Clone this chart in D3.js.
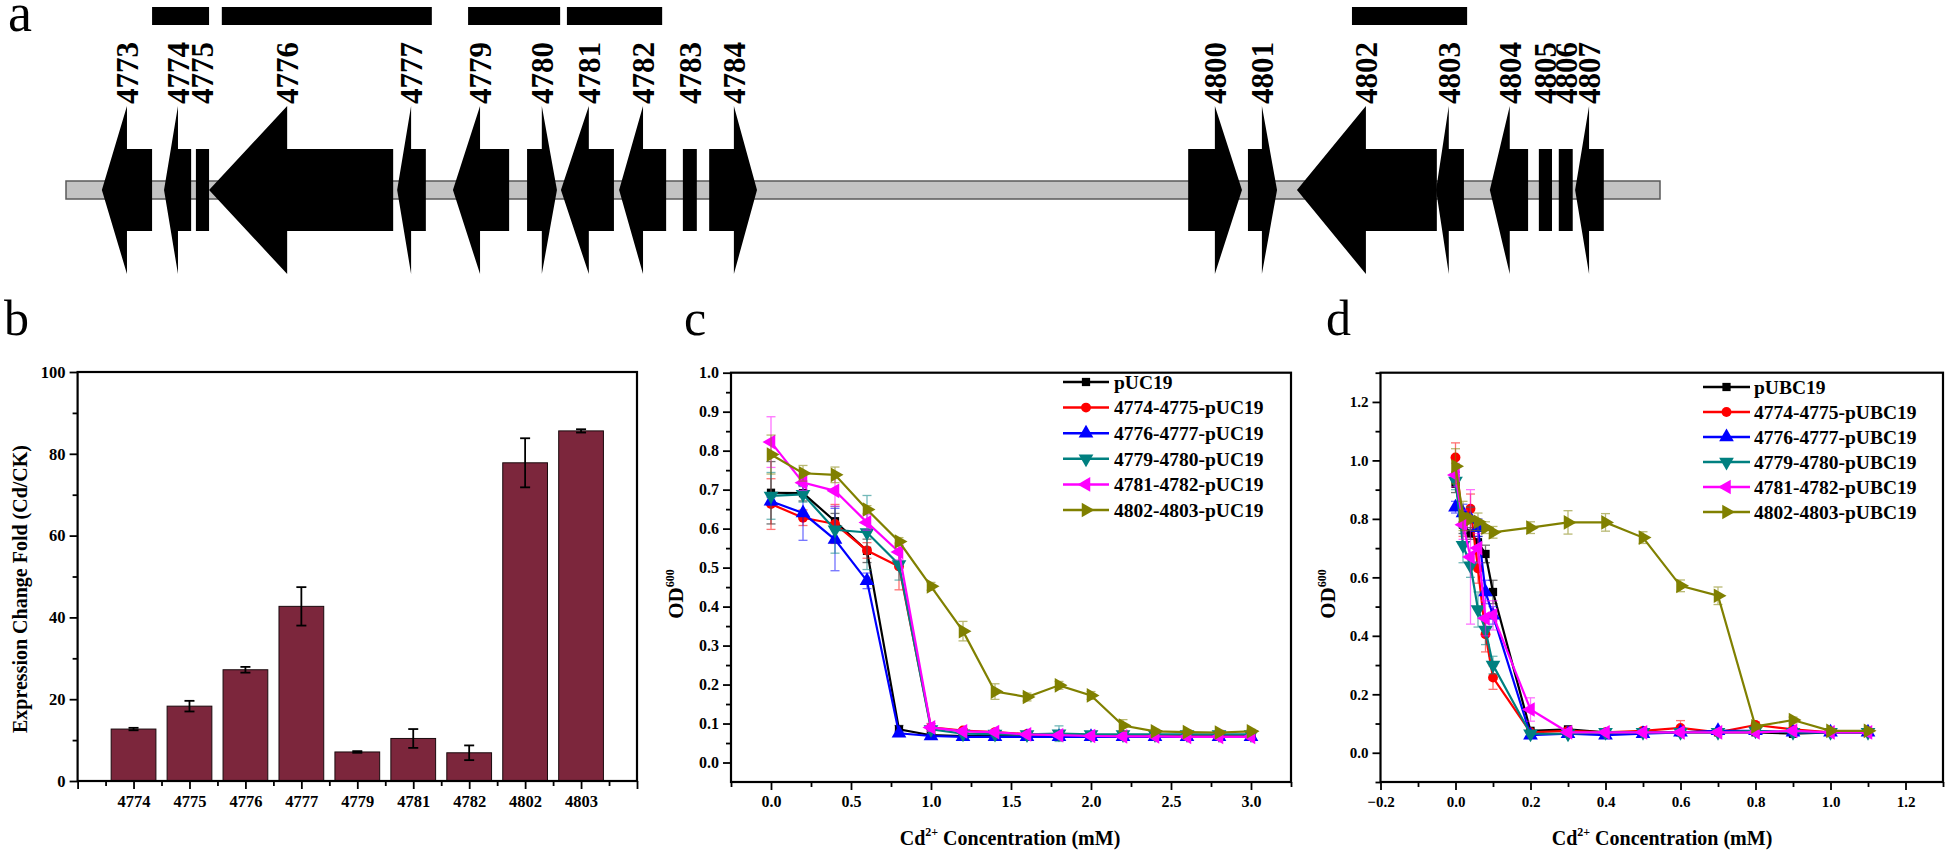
<!DOCTYPE html>
<html><head><meta charset="utf-8">
<script src="https://cdn.jsdelivr.net/npm/d3@7"></script>
<style>
body{margin:0;background:#fff}
svg{display:block}
text{font-family:"Liberation Serif","Times New Roman",serif}
</style>
</head><body>
<svg id="fig" width="1946" height="857"></svg>
<script>
// ---------------- DATA ----------------
// Panel a: gene cluster (positions in kb along the locus)
const locusLength = 40;
const geneIds    = ["4773","4774","4775","4776","4777","4779","4780","4781","4782","4783","4784","4800","4801","4802","4803","4804","4805","4806","4807"];
const geneStart  = [0.90, 2.46, 3.26, 3.59, 8.31, 9.71, 11.57, 12.42, 13.88, 15.48, 16.14, 28.16, 29.66, 30.89, 34.38, 35.73, 36.96, 37.46, 37.87];
const geneEnd    = [2.16, 3.14, 3.59, 8.21, 9.03, 11.12, 12.32, 13.75, 15.06, 15.83, 17.34, 29.51, 30.39, 34.40, 35.08, 36.69, 37.29, 37.81, 38.59];
const geneStrand = [-1, -1, 0, -1, -1, -1, 1, -1, -1, 0, 1, 1, 1, -1, -1, -1, 0, 0, -1];
const geneHead   = [0.63, 0.35, 0, 1.96, 0.35, 0.68, 0.38, 0.70, 0.60, 0, 0.58, 0.68, 0.38, 1.73, 0.32, 0.50, 0, 0, 0.35];
const fragStart  = [2.16, 3.91, 10.09, 12.57, 32.27];
const fragEnd    = [3.59, 9.18, 12.40, 14.96, 35.16];

// Panel b: expression change fold
const barCategories = ["4774","4775","4776","4777","4779","4781","4782","4802","4803"];
const barValues     = [12.7, 18.3, 27.2, 42.7, 7.1, 10.4, 6.9, 77.8, 85.6];
const barErrors     = [0.3, 1.3, 0.7, 4.7, 0.2, 2.3, 1.8, 6.0, 0.4];
const barYTicks     = [0, 20, 40, 60, 80, 100];

// Panel c: OD600 vs Cd2+ (pUC19 constructs)
const cConc = [0, 0.2, 0.4, 0.6, 0.8, 1.0, 1.2, 1.4, 1.6, 1.8, 2.0, 2.2, 2.4, 2.6, 2.8, 3.0];
const cNames = ["pUC19","4774-4775-pUC19","4776-4777-pUC19","4779-4780-pUC19","4781-4782-pUC19","4802-4803-pUC19"];
const cPUC19   = [0.692, 0.691, 0.619, 0.543, 0.085, 0.070, 0.068, 0.068, 0.067, 0.067, 0.067, 0.067, 0.067, 0.067, 0.067, 0.067];
const c4774    = [0.663, 0.628, 0.612, 0.544, 0.503, 0.090, 0.082, 0.078, 0.073, 0.070, 0.068, 0.068, 0.068, 0.068, 0.068, 0.068];
const c4776    = [0.670, 0.640, 0.572, 0.466, 0.075, 0.068, 0.066, 0.066, 0.066, 0.066, 0.066, 0.066, 0.066, 0.066, 0.066, 0.066];
const c4779    = [0.684, 0.688, 0.597, 0.590, 0.508, 0.085, 0.074, 0.073, 0.072, 0.074, 0.072, 0.072, 0.072, 0.072, 0.072, 0.072];
const c4781    = [0.822, 0.718, 0.697, 0.616, 0.540, 0.090, 0.080, 0.078, 0.072, 0.070, 0.068, 0.067, 0.067, 0.066, 0.066, 0.066];
const c4802    = [0.790, 0.742, 0.738, 0.649, 0.567, 0.452, 0.337, 0.182, 0.168, 0.198, 0.172, 0.095, 0.080, 0.078, 0.077, 0.080];
const cPUC19Err = [0.08, 0.02, 0.02, 0.03, 0.01, 0.005, 0.004, 0.004, 0.004, 0.004, 0.004, 0.004, 0.004, 0.004, 0.004, 0.004];
const c4774Err  = [0.065, 0.02, 0.05, 0.02, 0.06, 0.01, 0.005, 0.005, 0.004, 0.004, 0.004, 0.004, 0.004, 0.004, 0.004, 0.004];
const c4776Err  = [0.01, 0.07, 0.08, 0.02, 0.005, 0.004, 0.004, 0.004, 0.004, 0.004, 0.004, 0.004, 0.004, 0.004, 0.004, 0.004];
const c4779Err  = [0.06, 0.02, 0.06, 0.095, 0.04, 0.01, 0.005, 0.005, 0.005, 0.02, 0.005, 0.005, 0.005, 0.005, 0.005, 0.005];
const c4781Err  = [0.065, 0.02, 0.04, 0.02, 0.02, 0.01, 0.005, 0.005, 0.004, 0.004, 0.004, 0.004, 0.004, 0.004, 0.004, 0.004];
const c4802Err  = [0.05, 0.02, 0.02, 0.01, 0.01, 0.01, 0.025, 0.02, 0.01, 0.01, 0.01, 0.015, 0.005, 0.005, 0.005, 0.005];
const cXTicks = [0.0, 0.5, 1.0, 1.5, 2.0, 2.5, 3.0];
const cYTicks = [0.0, 0.1, 0.2, 0.3, 0.4, 0.5, 0.6, 0.7, 0.8, 0.9, 1.0];

// Panel d: OD600 vs Cd2+ (pUBC19 constructs)
const dConc = [0, 0.02, 0.04, 0.06, 0.08, 0.1, 0.2, 0.3, 0.4, 0.5, 0.6, 0.7, 0.8, 0.9, 1.0, 1.1];
const dNames = ["pUBC19","4774-4775-pUBC19","4776-4777-pUBC19","4779-4780-pUBC19","4781-4782-pUBC19","4802-4803-pUBC19"];
const dPUBC19 = [0.92, 0.78, 0.75, 0.72, 0.68, 0.55, 0.075, 0.080, 0.070, 0.070, 0.070, 0.070, 0.070, 0.065, 0.070, 0.070];
const d4774   = [1.01, 0.78, 0.835, 0.63, 0.405, 0.257, 0.070, 0.075, 0.070, 0.075, 0.085, 0.070, 0.095, 0.080, 0.070, 0.070];
const d4776   = [0.84, 0.82, 0.80, 0.77, 0.55, 0.47, 0.060, 0.065, 0.060, 0.065, 0.070, 0.075, 0.075, 0.070, 0.070, 0.070];
const d4779   = [0.93, 0.71, 0.64, 0.49, 0.42, 0.30, 0.065, 0.065, 0.070, 0.070, 0.070, 0.070, 0.075, 0.070, 0.070, 0.070];
const d4781   = [0.95, 0.78, 0.67, 0.70, 0.46, 0.47, 0.148, 0.070, 0.070, 0.070, 0.070, 0.070, 0.070, 0.075, 0.070, 0.070];
const d4802   = [0.98, 0.81, 0.80, 0.79, 0.77, 0.754, 0.770, 0.788, 0.788, 0.736, 0.571, 0.537, 0.090, 0.112, 0.075, 0.075];
const dPUBC19Err = [0.03, 0.03, 0.02, 0.02, 0.03, 0.04, 0.005, 0.005, 0.004, 0.004, 0.004, 0.004, 0.004, 0.004, 0.004, 0.004];
const d4774Err   = [0.05, 0.04, 0.05, 0.05, 0.06, 0.04, 0.005, 0.005, 0.005, 0.005, 0.025, 0.005, 0.01, 0.005, 0.004, 0.004];
const d4776Err   = [0.02, 0.03, 0.04, 0.03, 0.04, 0.03, 0.005, 0.005, 0.004, 0.004, 0.004, 0.004, 0.004, 0.004, 0.004, 0.004];
const d4779Err   = [0.03, 0.06, 0.04, 0.06, 0.05, 0.03, 0.005, 0.005, 0.004, 0.004, 0.004, 0.004, 0.004, 0.004, 0.004, 0.004];
const d4781Err   = [0.04, 0.05, 0.23, 0.05, 0.06, 0.05, 0.04, 0.005, 0.004, 0.004, 0.004, 0.004, 0.004, 0.004, 0.004, 0.004];
const d4802Err   = [0.06, 0.05, 0.04, 0.03, 0.02, 0.02, 0.02, 0.04, 0.03, 0.02, 0.02, 0.03, 0.01, 0.01, 0.005, 0.005];
const dXTicks = [-0.2, 0.0, 0.2, 0.4, 0.6, 0.8, 1.0, 1.2];
const dYTicks = [0.0, 0.2, 0.4, 0.6, 0.8, 1.0, 1.2];

const seriesColors  = ["#000000", "#ff0000", "#0000ff", "#008080", "#ff00ff", "#808000"];
const seriesSymbols = ["square", "circle", "up", "down", "left", "right"];

// ---------------- DRAWING ----------------
const svg = d3.select("#fig");
const BOLD = "bold";

// panel letters
[["a", 8, 31, 54], ["b", 4, 335, 50], ["c", 684, 335, 50], ["d", 1326, 335, 50]].forEach(([t, x, y, s]) => {
  svg.append("text").attr("x", x).attr("y", y).attr("font-size", s).text(t);
});

// ---------- Panel a ----------
(function () {
  const xg = d3.scaleLinear().domain([0, locusLength]).range([66, 1660]);
  const cy = 190, headH = 84, bodyH = 41;
  const g = svg.append("g");
  g.append("rect").attr("x", xg(0)).attr("y", cy - 9).attr("width", xg(locusLength) - xg(0)).attr("height", 18)
    .attr("fill", "#c3c3c3").attr("stroke", "#5a5a5a").attr("stroke-width", 1.5);
  g.selectAll("rect.frag").data(fragStart).enter().append("rect").attr("class", "frag")
    .attr("x", d => xg(d)).attr("y", 7).attr("width", (d, i) => xg(fragEnd[i]) - xg(d)).attr("height", 18).attr("fill", "#000");
  geneIds.forEach((id, i) => {
    const s = geneStrand[i], a = geneStart[i], b = geneEnd[i], h = geneHead[i];
    let pts, lx;
    if (s === -1) {
      const tip = xg(a), base = xg(a + h), end = xg(b);
      pts = [[tip, cy], [base, cy - headH], [base, cy - bodyH], [end, cy - bodyH], [end, cy + bodyH], [base, cy + bodyH], [base, cy + headH]];
      lx = base;
    } else if (s === 1) {
      const st = xg(a), base = xg(b - h), tip = xg(b);
      pts = [[st, cy - bodyH], [base, cy - bodyH], [base, cy - headH], [tip, cy], [base, cy + headH], [base, cy + bodyH], [st, cy + bodyH]];
      lx = base;
    } else {
      const st = xg(a), end = xg(b);
      pts = [[st, cy - bodyH], [end, cy - bodyH], [end, cy + bodyH], [st, cy + bodyH]];
      lx = (st + end) / 2;
    }
    g.append("path").attr("d", d3.line()(pts) + "Z").attr("fill", "#000");
    g.append("text").attr("transform", `translate(${lx},104) rotate(-90)`).attr("dy", "0.35em")
      .attr("font-size", 31).attr("font-weight", BOLD).text(id);
  });
})();

// ---------- generic helpers ----------
function frame(g, x, y) {
  const [x0, x1] = x.range(), [y0, y1] = y.range();
  g.append("rect").attr("x", x0).attr("y", y1).attr("width", x1 - x0).attr("height", y0 - y1)
    .attr("fill", "none").attr("stroke", "#000").attr("stroke-width", 2.2);
}
function styleAxis(sel, fs) {
  sel.select(".domain").remove();
  sel.selectAll(".tick line").attr("stroke", "#000").attr("stroke-width", 1.8);
  sel.selectAll(".tick text").attr("font-family", '"Liberation Serif","Times New Roman",serif')
    .attr("font-weight", BOLD).attr("font-size", fs).attr("fill", "#000");
}
function axes(g, x, y, o) {
  const [y0] = y.range(), [x0] = x.range();
  const bx = g.append("g").attr("transform", `translate(0,${y0})`)
    .call(d3.axisBottom(x).tickValues(o.xMajor).tickSize(8).tickPadding(o.xPad).tickFormat(o.xFmt));
  styleAxis(bx, o.fs);
  const bm = g.append("g").attr("transform", `translate(0,${y0})`)
    .call(d3.axisBottom(x).tickValues(o.xMinor).tickSize(5).tickFormat(""));
  styleAxis(bm, o.fs);
  const ly = g.append("g").attr("transform", `translate(${x0},0)`)
    .call(d3.axisLeft(y).tickValues(o.yMajor).tickSize(8).tickPadding(o.yPad).tickFormat(o.yFmt));
  styleAxis(ly, o.fs);
  const lm = g.append("g").attr("transform", `translate(${x0},0)`)
    .call(d3.axisLeft(y).tickValues(o.yMinor).tickSize(5).tickFormat(""));
  styleAxis(lm, o.fs);
}
function symbolPath(type, size) {
  const map = { square: [d3.symbolSquare, 0, 0.8], circle: [d3.symbolCircle, 0, 0.9], up: [d3.symbolTriangle, 0, 1.1],
    down: [d3.symbolTriangle, 180, 1.1], left: [d3.symbolTriangle, -90, 1.1], right: [d3.symbolTriangle, 90, 1.1] };
  const [s, r, k] = map[type];
  return { d: d3.symbol().type(s).size(size * k)(), rot: r };
}

// ---------- Panel b ----------
(function () {
  const g = svg.append("g");
  const x = d3.scaleLinear().domain([0, barCategories.length + 1]).range([77.6, 637]);
  const y = d3.scaleLinear().domain([0, 100]).range([781, 372]);
  const bw = (x(0.8) - x(0));
  g.selectAll("rect.bar").data(barValues).enter().append("rect").attr("class", "bar")
    .attr("x", (d, i) => x(i + 1) - bw / 2).attr("y", d => y(d)).attr("width", bw).attr("height", d => y(0) - y(d))
    .attr("fill", "#7c263c").attr("stroke", "#1a0a0e").attr("stroke-width", 1);
  barValues.forEach((v, i) => {
    const cx = x(i + 1), e = barErrors[i];
    g.append("line").attr("x1", cx).attr("x2", cx).attr("y1", y(v + e)).attr("y2", y(v - e)).attr("stroke", "#000").attr("stroke-width", 1.8);
    [v + e, v - e].forEach(t => g.append("line").attr("x1", cx - 5).attr("x2", cx + 5).attr("y1", y(t)).attr("y2", y(t)).attr("stroke", "#000").attr("stroke-width", 1.8));
  });
  frame(g, x, y);
  const idx = d3.range(0, barCategories.length + 2);
  axes(g, x, y, {
    xMajor: idx, xMinor: idx.slice(0, -1).map(d => d + 0.5), xPad: 6,
    xFmt: d => (d >= 1 && d <= barCategories.length) ? barCategories[d - 1] : "",
    yMajor: barYTicks, yMinor: [10, 30, 50, 70, 90], yPad: 4, yFmt: d3.format("d"), fs: 16.5
  });
  g.append("text").attr("transform", `translate(19.5,589) rotate(-90)`).attr("dy", "0.35em").attr("text-anchor", "middle")
    .attr("font-size", 20).attr("font-weight", BOLD).text("Expression Change Fold (Cd/CK)");
})();

// ---------- Line panels ----------
function linePanel(cfg) {
  const g = svg.append("g");
  const x = d3.scaleLinear().domain(cfg.xDom).range(cfg.xRange);
  const y = d3.scaleLinear().domain(cfg.yDom).range(cfg.yRange);
  const line = d3.line().x((d, i) => x(cfg.conc[i])).y(d => y(d));
  cfg.series.forEach((s, k) => {
    const col = seriesColors[k];
    s.values.forEach((v, i) => {
      const cx = x(cfg.conc[i]), e = s.errors[i];
      const eg = g.append("g").attr("stroke", col).attr("stroke-width", 1.3).attr("opacity", 0.55);
      eg.append("line").attr("x1", cx).attr("x2", cx).attr("y1", y(v + e)).attr("y2", y(v - e));
      [v + e, v - e].forEach(t => eg.append("line").attr("x1", cx - 4.5).attr("x2", cx + 4.5).attr("y1", y(t)).attr("y2", y(t)));
    });
    g.append("path").datum(s.values).attr("d", line).attr("fill", "none").attr("stroke", col).attr("stroke-width", 2.2);
    const sp = symbolPath(seriesSymbols[k], 85);
    s.values.forEach((v, i) => {
      g.append("path").attr("d", sp.d).attr("fill", col)
        .attr("transform", `translate(${x(cfg.conc[i])},${y(v)}) rotate(${sp.rot})`);
    });
  });
  frame(g, x, y);
  axes(g, x, y, cfg.axes);
  // legend
  cfg.series.forEach((s, k) => {
    const ly = cfg.leg.y0 + k * cfg.leg.dy, col = seriesColors[k];
    g.append("line").attr("x1", cfg.leg.x0).attr("x2", cfg.leg.x1).attr("y1", ly).attr("y2", ly).attr("stroke", col).attr("stroke-width", 2.5);
    const sp = symbolPath(seriesSymbols[k], 85);
    g.append("path").attr("d", sp.d).attr("fill", col).attr("transform", `translate(${(cfg.leg.x0 + cfg.leg.x1) / 2},${ly}) rotate(${sp.rot})`);
    g.append("text").attr("x", cfg.leg.tx).attr("y", ly).attr("dy", "0.35em").attr("font-size", 19.5).attr("font-weight", BOLD).text(s.name);
  });
  // titles
  const t = g.append("text").attr("x", cfg.xTitle[0]).attr("y", cfg.xTitle[1]).attr("text-anchor", "middle")
    .attr("font-size", 20).attr("font-weight", BOLD);
  t.append("tspan").text("Cd");
  t.append("tspan").attr("font-size", 12).attr("dy", -9).text("2+");
  t.append("tspan").attr("dy", 9).text(" Concentration (mM)");
  const yt = g.append("text").attr("transform", `translate(${cfg.yTitle[0]},${cfg.yTitle[1]}) rotate(-90)`).attr("dy", "0.35em")
    .attr("text-anchor", "middle").attr("font-size", 21).attr("font-weight", BOLD);
  yt.append("tspan").text("OD");
  yt.append("tspan").attr("font-size", 12).attr("dy", -9).text("600");
}

linePanel({
  conc: cConc, xDom: [-0.25, 3.25], xRange: [731, 1291], yDom: [-0.05, 1.0], yRange: [782, 372.7],
  series: [
    { name: cNames[0], values: cPUC19, errors: cPUC19Err },
    { name: cNames[1], values: c4774, errors: c4774Err },
    { name: cNames[2], values: c4776, errors: c4776Err },
    { name: cNames[3], values: c4779, errors: c4779Err },
    { name: cNames[4], values: c4781, errors: c4781Err },
    { name: cNames[5], values: c4802, errors: c4802Err }
  ],
  axes: { xMajor: cXTicks, xMinor: [-0.25, 0.25, 0.75, 1.25, 1.75, 2.25, 2.75, 3.25], xPad: 6, xFmt: d3.format(".1f"),
    yMajor: cYTicks, yMinor: d3.range(0, 10).map(i => 0.05 + i * 0.1), yPad: 4, yFmt: d3.format(".1f"), fs: 16 },
  leg: { x0: 1063, x1: 1109, tx: 1114, y0: 382, dy: 25.6 },
  xTitle: [1010, 845], yTitle: [676, 594]
});

linePanel({
  conc: dConc, xDom: [-0.2, 1.3], xRange: [1380.5, 1943], yDom: [-0.1, 1.3], yRange: [782, 372.7],
  series: [
    { name: dNames[0], values: dPUBC19, errors: dPUBC19Err },
    { name: dNames[1], values: d4774, errors: d4774Err },
    { name: dNames[2], values: d4776, errors: d4776Err },
    { name: dNames[3], values: d4779, errors: d4779Err },
    { name: dNames[4], values: d4781, errors: d4781Err },
    { name: dNames[5], values: d4802, errors: d4802Err }
  ],
  axes: { xMajor: dXTicks, xMinor: [-0.1, 0.1, 0.3, 0.5, 0.7, 0.9, 1.1, 1.3], xPad: 6, xFmt: d3.format(".1f"),
    yMajor: dYTicks, yMinor: [-0.1, 0.1, 0.3, 0.5, 0.7, 0.9, 1.1, 1.3], yPad: 4, yFmt: d3.format(".1f"), fs: 15 },
  leg: { x0: 1703, x1: 1750, tx: 1754, y0: 387, dy: 25 },
  xTitle: [1662, 845], yTitle: [1328, 594]
});
</script>
</body></html>
